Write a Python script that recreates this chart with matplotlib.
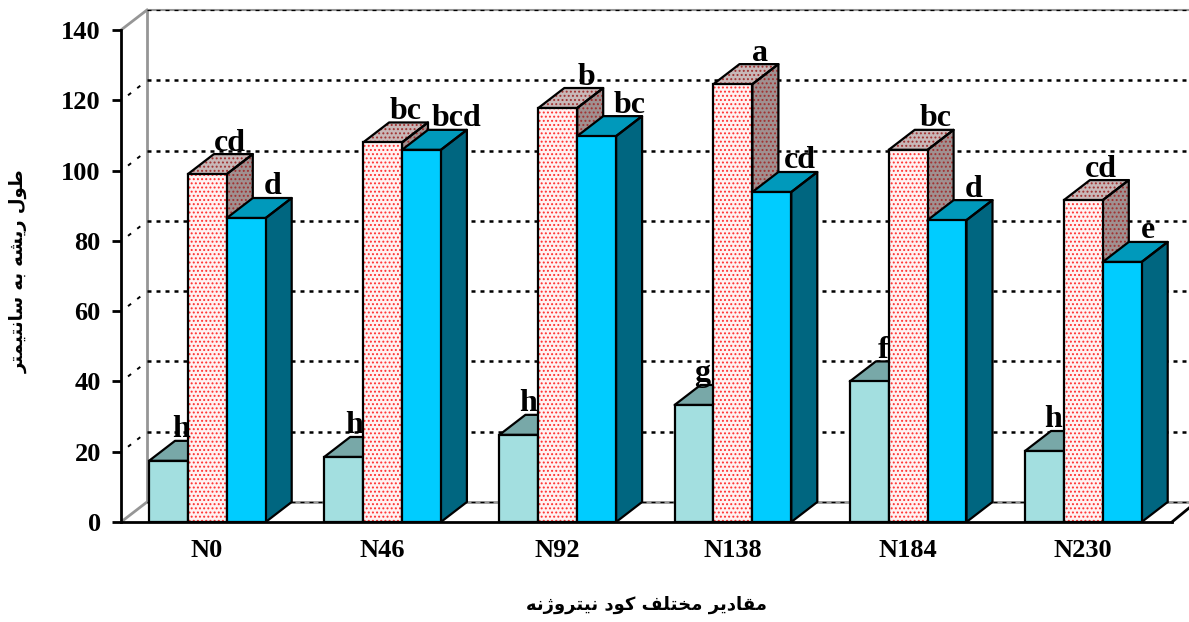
import numpy as np
import matplotlib
matplotlib.use('Agg')
import matplotlib.pyplot as plt
from matplotlib.patches import Polygon

# data
categories = ['N0', 'N46', 'N92', 'N138', 'N184', 'N230']
light_vals = [17.4, 18.5, 24.8, 33.3, 40.0, 20.2]
red_vals = [99.0, 108.0, 117.8, 124.6, 105.9, 91.6]
blue_vals = [86.5, 105.9, 109.8, 93.9, 85.9, 74.0]
light_letters = ['h', 'h', 'h', 'g', 'f', 'h']
red_letters = ['cd', 'bc', 'b', 'a', 'bc', 'cd']
blue_letters = ['d', 'bcd', 'bc', 'cd', 'd', 'e']
y_ticks = [0, 20, 40, 60, 80, 100, 120, 140]
y_title = 'طول ریشه به سانتیمتر'
x_title = 'مقادیر مختلف کود نیتروژنه'

# presentation forms: isolated, final, initial, medial
FORMS = {
    'ط': 'ﻁﻂﻃﻄ', 'ل': 'ﻝﻞﻟﻠ', 'ی': 'ﯼﯽﯾﯿ', 'ش': 'ﺵﺶﺷﺸ', 'ه': 'ﻩﻪﻫﻬ',
    'ب': 'ﺏﺐﺑﺒ', 'س': 'ﺱﺲﺳﺴ', 'ن': 'ﻥﻦﻧﻨ', 'ت': 'ﺕﺖﺗﺘ', 'م': 'ﻡﻢﻣﻤ',
    'ق': 'ﻕﻖﻗﻘ', 'خ': 'ﺥﺦﺧﺨ', 'ف': 'ﻑﻒﻓﻔ', 'ک': 'ﮎﮏﮐﮑ',
    'و': 'ﻭﻮ', 'ر': 'ﺭﺮ', 'ا': 'ﺍﺎ', 'د': 'ﺩﺪ', 'ژ': 'ﮊﮋ',
}


def shape(text):
    # matplotlib does not join arabic letters, so do it by hand
    out = []
    for i, c in enumerate(text):
        if c not in FORMS:
            out.append(c)
            continue
        prev = text[i - 1] if i > 0 else ' '
        nxt = text[i + 1] if i < len(text) - 1 else ' '
        joins_prev = prev in FORMS and len(FORMS[prev]) == 4
        joins_next = nxt in FORMS and len(FORMS[c]) == 4
        if joins_prev and joins_next:
            form = 3
        elif joins_next:
            form = 2
        elif joins_prev:
            form = 1
        else:
            form = 0
        out.append(FORMS[c][form])
    return ''.join(reversed(out))


W, H = 1189, 622
px_x = 175.2          # pixels per category
px_y = 492.0 / 140    # pixels per unit
dx = 26 / px_x
dy = 20 / px_y
bw = 38.9 / px_x
start = 28 / px_x
edge = 1.6

plt.rcParams['hatch.linewidth'] = 0.9
fig = plt.figure(figsize=(W / 100, H / 100), dpi=100)
ax = fig.add_axes([121 / W, (H - 522) / H, (W - 121) / W, 512 / H])
x_end = (W - 121) / px_x
ax.set_xlim(0, x_end)
ax.set_ylim(0, 512 / px_y)
for s in ['top', 'right']:
    ax.spines[s].set_visible(False)
for s in ['left', 'bottom']:
    ax.spines[s].set_linewidth(2)
ax.spines['left'].set_bounds(0, 140)
ax.spines['bottom'].set_bounds(0, 1051 / px_x)

# walls
wall = '#969696'
ax.plot([dx, dx], [dy, 140 + dy], color=wall, lw=2, zorder=1)
ax.plot([0, dx], [140, 140 + dy], color=wall, lw=2, zorder=1, clip_on=False)
ax.plot([0, dx], [0, dy], color=wall, lw=2, zorder=1)
ax.plot([dx, x_end], [140 + dy, 140 + dy], color=wall, lw=1.5, zorder=1, clip_on=False)
ax.plot([dx, x_end], [dy, dy], color=wall, lw=2, zorder=1)
ax.plot([1051 / px_x, x_end], [0, dy * 0.7], color='black', lw=2, zorder=1, clip_on=False)

# grid on the back wall and down the side wall
for v in y_ticks:
    thin = v in (0, 140)
    ax.plot([dx, x_end], [v + dy, v + dy], color='black', lw=0.9 if thin else 1.8,
            dashes=(3.2, 4.0) if thin else (1.6, 2.0), zorder=2, clip_on=False)
    if not thin:
        ax.plot([0.04, dx - 0.02], [v + dy * 0.25, v + dy * 0.85], color='black', lw=1.4,
                dashes=(2, 4), zorder=2, clip_on=False)


def draw_series(x, vals, face, top, side, hatch=None, h_front=None, h_shade=None, z=3):
    for xi, v in zip(x, vals):
        top_pts = [(xi, v), (xi + dx, v + dy), (xi + bw + dx, v + dy), (xi + bw, v)]
        side_pts = [(xi + bw, 0), (xi + bw + dx, dy), (xi + bw + dx, v + dy), (xi + bw, v)]
        ax.add_patch(Polygon(side_pts, facecolor=side, edgecolor=h_shade or side,
                             hatch=hatch, lw=0, zorder=z))
        ax.add_patch(Polygon(top_pts, facecolor=top, edgecolor=h_shade or top,
                             hatch=hatch, lw=0, zorder=z))
        ax.add_patch(Polygon(side_pts, fill=False, edgecolor='black', lw=edge, zorder=z,
                             joinstyle='round'))
        ax.add_patch(Polygon(top_pts, fill=False, edgecolor='black', lw=edge, zorder=z,
                             joinstyle='round'))
        ax.bar(xi, v, bw, align='edge', color=face, edgecolor=h_front or face,
               hatch=hatch, lw=0, zorder=z)
        ax.bar(xi, v, bw, align='edge', fill=False, edgecolor='black', lw=edge, zorder=z)


xs = np.arange(len(categories)) + start
draw_series(xs, light_vals, '#A3DFE0', '#78A8A8', '#78A8A8', z=3)
draw_series(xs + bw, red_vals, '#FFF2F2', '#C8B8B8', '#A09090', hatch='....',
            h_front='#FF3030', h_shade='#A03030', z=4)
draw_series(xs + 2 * bw, blue_vals, '#00CCFF', '#0099BB', '#006680', z=5)

# letters above the bars, small sideways nudges in pixels
light_nudge = [2, 0, -1, -2, 3, -2]
red_nudge = [-2, -1, 4, 3, 3, -7]
blue_nudge = [0, 9, 7, 2, 1, 0]
font = {'family': 'Liberation Serif', 'weight': 'bold', 'color': 'black'}
for offs, shift, vals, letters, nudge in [(0.5, 0.06, light_vals, light_letters, light_nudge),
                                          (1.5, 0.14, red_vals, red_letters, red_nudge),
                                          (2.5, dx, blue_vals, blue_letters, blue_nudge)]:
    for xi, v, t, n in zip(xs, vals, letters, nudge):
        ax.text(xi + offs * bw + shift + n / px_x, v + dy + 1.0, t, ha='center', va='baseline',
                fontsize=23, zorder=10, **font)

ax.set_yticks(y_ticks)
ax.set_yticklabels(y_ticks, fontfamily='Liberation Serif', fontweight='bold', fontsize=19)
ax.set_xticks(np.arange(len(categories)) + 0.49)
ax.set_xticklabels(categories, fontfamily='Liberation Serif', fontweight='bold', fontsize=19)
ax.tick_params(axis='y', length=6.5, width=2, pad=8)
ax.tick_params(axis='x', length=0, pad=12)

fig.text(19 / W, 1 - 271 / H, shape(y_title), rotation=90, ha='center', va='center',
         fontfamily='DejaVu Sans', fontweight='bold', fontsize=13)
fig.text(647 / W, 1 - 605 / H, shape(x_title), ha='center', va='center',
         fontfamily='DejaVu Sans', fontweight='bold', fontsize=13)

fig.savefig('out.png', dpi=100)
